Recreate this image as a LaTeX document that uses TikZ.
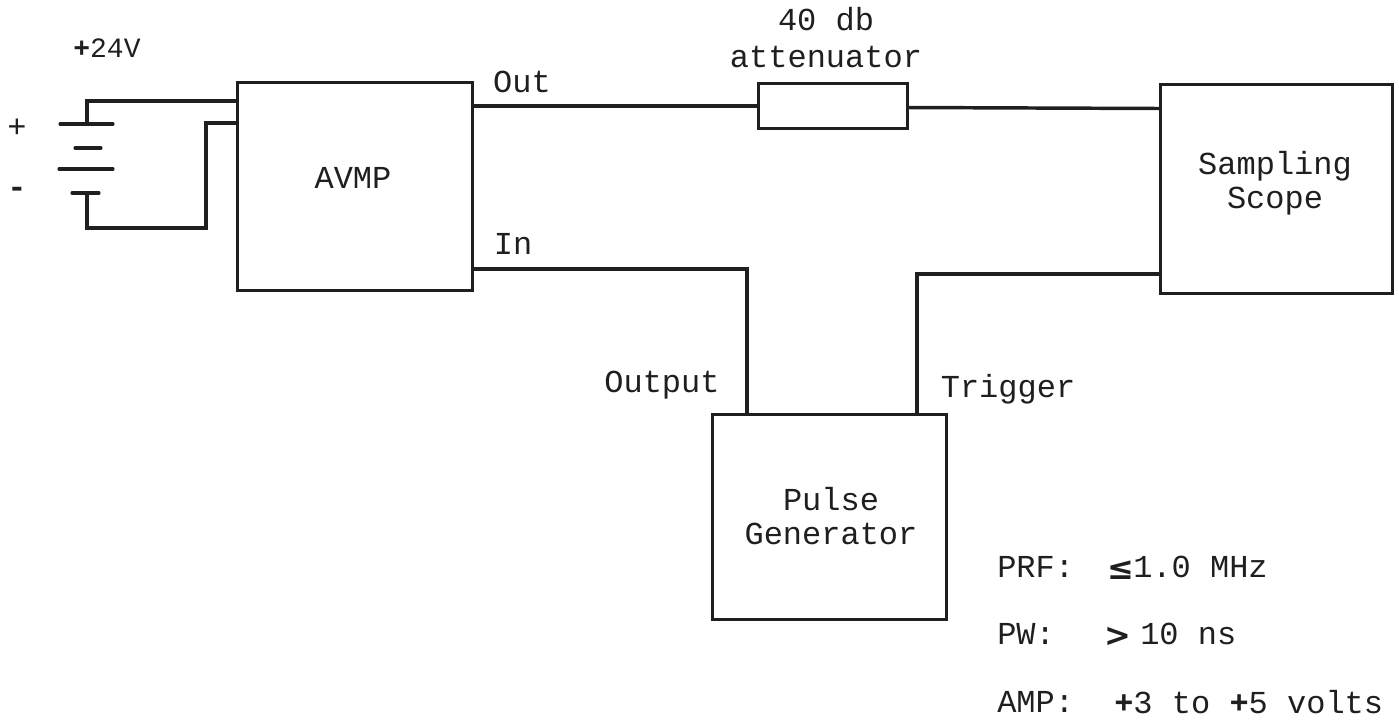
\documentclass[tikz,border=0pt]{standalone}
\usepackage{fontspec}
\setmainfont{Liberation Mono}
\newfontfamily\symfont{DejaVu Sans}
\begin{document}
\begin{tikzpicture}[x=0.75pt,y=-0.75pt,
  boxn/.style={draw=black!88,line width=2.4pt,inner sep=0pt,anchor=north west,align=center},
  lbl/.style={inner sep=0pt,text=black!88,font=\fontsize{24}{25.5}\selectfont,align=center},
  wire/.style={draw=black!88,line width=2.3pt,line join=miter},
  plate/.style={draw=black!88,line width=2.3pt,line cap=round}]
\useasboundingbox (0,0) rectangle (1399,721);
\node[boxn,minimum width=235*0.75pt,minimum height=208*0.75pt] (avmp) at (236,81) {};
\node[lbl] (avmpt) at (353,178) {AVMP};
\node[boxn,minimum width=149*0.75pt,minimum height=45*0.75pt] (att) at (757,82) {};
\node[boxn,minimum width=232*0.75pt,minimum height=209*0.75pt] (scope) at (1159,83) {};
\node[lbl] (scopet) at (1275,183) {Sampling\\Scope};
\node[boxn,minimum width=234*0.75pt,minimum height=205*0.75pt] (pulse) at (711,413) {};
\node[lbl] (pulset) at (831,516) {Pulse\\Generator};
% labels
\node[lbl,font=\fontsize{21}{25}\selectfont] (v24) at (107,48) {\textbf{+}24V};
\node[lbl] (plus) at (17,128) {+};
\node[lbl] (minus) at (17,192) {\textbf{-}};
\node[lbl] (outl) at (522,82) {Out};
\node[lbl] (inl) at (513,244) {In};
\node[lbl,font=\fontsize{24}{27.7}\selectfont] (attl) at (826,38) {40 db\\attenuator};
\node[lbl] (outputl) at (662,385) {Output};
\node[lbl] (trigl) at (1008,389) {Trigger};
\node[lbl,anchor=west] (prf) at (997,567) {PRF:};
\node[lbl,anchor=west] (prfs) at (1107,570) {\symfont\bfseries ≤};
\node[lbl,anchor=west] (prfv) at (1133,567) {1.0 MHz};
\node[lbl,anchor=west] (pw) at (997,634) {PW:};
\node[lbl,anchor=west] (pws) at (1104,637) {\symfont\bfseries >};
\node[lbl,anchor=west] (pwv) at (1140,634) {10 ns};
\node[lbl,anchor=west] (amp) at (997,702) {AMP:};
\node[lbl,anchor=west] (ampv) at (1114,702) {\textbf{+}3 to \textbf{+}5 volts};
% battery
\coordinate (p1a) at (60,124); \coordinate (p1b) at (113,124);
\coordinate (p2a) at (75,148); \coordinate (p2b) at (101,148);
\coordinate (p3a) at (59,169); \coordinate (p3b) at (113,169);
\coordinate (p4a) at (72,193); \coordinate (p4b) at (99,193);
\draw[plate] (p1a) -- (p1b);
\draw[plate] (p2a) -- (p2b);
\draw[plate] (p3a) -- (p3b);
\draw[plate] (p4a) -- (p4b);
\coordinate (t1) at (87,124); \coordinate (t2) at (87,193);
\coordinate (a1) at (236,101); \coordinate (a2) at (236,123);
\draw[wire] (t1) -- (t1 |- a1) -- (a1);
\draw[wire] (a2) -- (206,123) -- (206,228) -- (87,228) -- (t2);
\coordinate (o1) at (471,106); \coordinate (o2) at (757,106);
\draw[wire] (o1) -- (o2);
\coordinate (o3) at (906,107.5); \coordinate (o4) at (1159,108.5);
\draw[wire,line width=2.6pt] (o3) -- (o4);
\coordinate (i1) at (471,269); \coordinate (i2) at (747,413);
\draw[wire] (i1) -- (i1 -| i2) -- (i2);
\coordinate (g1) at (917,413); \coordinate (g2) at (1159,274);
\draw[wire] (g1) -- (g1 |- g2) -- (g2);
\end{tikzpicture}
\end{document}
